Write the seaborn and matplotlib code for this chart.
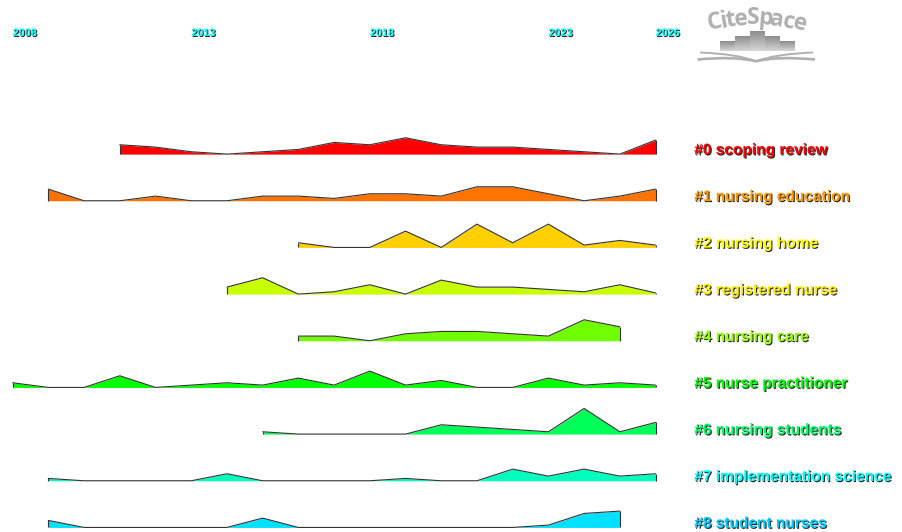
import numpy as np
import pandas as pd
import matplotlib.pyplot as plt
import matplotlib.patheffects as pe
from matplotlib.path import Path
from matplotlib.patches import PathPatch
import seaborn as sns

# cluster labels, first year of each cluster and yearly counts
labels = ["#0 scoping review", "#1 nursing education", "#2 nursing home",
          "#3 registered nurse", "#4 nursing care", "#5 nurse practitioner",
          "#6 nursing students", "#7 implementation science", "#8 student nurses"]
start_years = [2011, 2009, 2016, 2014, 2016, 2008, 2015, 2009, 2009]

c0 = [4, 3, 1, 0, 1, 2, 5, 4, 7, 4, 3, 3, 2, 1, 0, 6]
c1 = [5, 0, 0, 2, 0, 0, 2, 2, 1, 3, 3, 2, 6, 6, 3, 0, 2, 5]
c2 = [2, 0, 0, 7, 0, 10, 2, 10, 1, 3, 1]
c3 = [3, 7, 0, 1, 4, 0, 6, 3, 3, 2, 1, 4, 0.5]
c4 = [2, 2, 0, 3, 4, 4, 3, 2, 9, 6]
c5 = [2, 0, 0, 5, 0, 1, 2, 1, 4, 1, 7, 1, 3, 0, 0, 4, 1, 2, 1]
c6 = [1, 0, 0, 0, 0, 4, 3, 2, 1, 11, 1, 5]
c7 = [1, 0, 0, 0, 0, 3, 0, 0, 0, 0, 1, 0, 0, 5, 2, 5, 2, 3]
c8 = [3, 0, 0, 0, 0, 0, 4, 0, 0, 0, 0, 0, 0, 0, 1, 6, 7]
counts = [c0, c1, c2, c3, c4, c5, c6, c7, c8]

fill_colors = ["#FF0000", "#FF7300", "#FFD000", "#C8FF00", "#6FFF00",
               "#00FF00", "#00FF59", "#00FFBF", "#00E1FF"]
text_colors = ["#FF0000", "#FF9900", "#FFFF00", "#FFEE00", "#99FF00",
               "#00FF00", "#00FF66", "#00FFFF", "#00CCFF"]
year_ticks = [2008, 2013, 2018, 2023, 2026]

sns.set_theme(style="white")
plt.rcParams["font.family"] = ["Liberation Sans", "DejaVu Sans"]

W, H = 902, 532
px_year = 35.72
px_count = 7 / 3
row_step = 20

fig = plt.figure(figsize=(W / 100, H / 100), dpi=100)
ax = fig.add_axes([0, 0, 1, 1])
x0 = 2008 - 12.6 / px_year
y_top = 154.1 / px_count
ax.set_xlim(x0, x0 + W / px_year)
ax.set_ylim(y_top - H / px_count, y_top)
ax.axis("off")

shadow = [pe.withSimplePatchShadow(offset=(0.8, -0.8), shadow_rgbFace="#2a2a2a", alpha=1)]

for i, vals in enumerate(counts):
    base = -row_step * i
    df = pd.DataFrame({"year": start_years[i] + np.arange(len(vals)), "count": vals})
    df["y"] = df["count"] + base
    ax.fill_between(df["year"], base, df["y"], color=fill_colors[i], lw=0, zorder=2)
    sns.lineplot(data=df, x="year", y="y", color="#333333", lw=0.8, ax=ax, zorder=3)
    ax.vlines([df["year"].iloc[0], df["year"].iloc[-1]], base, [df["y"].iloc[0], df["y"].iloc[-1]],
              color="#333333", lw=0.8, zorder=3)
    ax.text(2027.08, base - 0.1, labels[i], color=text_colors[i], fontsize=11.15, fontweight="bold",
            va="baseline", ha="left", path_effects=shadow, clip_on=False)

year_y = (154.1 - 35.9) / px_count
for yr in year_ticks:
    ax.text(yr, year_y, str(yr), color="#00FFFF", fontsize=7.8, fontweight="bold",
            va="baseline", ha="left", path_effects=shadow)
ax.set_xlabel("")
ax.set_ylabel("")

# CiteSpace logo, in pixel coordinates
logo = fig.add_axes([0, 0, 1, 1], facecolor="none")

letters = ["C", "i", "t", "e", "S", "p", "a", "c", "e"]
letter_x = [715, 724, 731, 741, 753, 765, 777, 789, 800]
letter_y = [22.5, 21, 20, 19, 18, 19, 20, 22, 23.5]
letter_rot = [12, 10, 8, 5, 0, -5, -8, -11, -14]
for ch, lx, ly, rot in zip(letters, letter_x, letter_y, letter_rot):
    logo.text(lx, ly, ch, color="#b0b0b0", fontsize=16.5, fontweight="bold", family="Open Sans",
              ha="center", va="center", rotation=rot)

grad = np.linspace(0.55, 0.84, 64).reshape(-1, 1)
bar_x = [720, 735, 750, 765, 780]
bar_top = [41, 36, 31, 36, 41]
for bx, bt in zip(bar_x, bar_top):
    logo.imshow(grad, cmap="gray", vmin=0, vmax=1, extent=(bx, bx + 14.3, 51, bt), aspect="auto", zorder=2)

for start, ctrl, lw in [((700, 52.5), (738, 54), 1.4), ((697.5, 59.5), (735, 56), 1.9),
                        ((813, 52.5), (775, 54), 1.4), ((815, 59.5), (777, 56), 1.9)]:
    p = Path([start, ctrl, (756, 61.3)], [Path.MOVETO, Path.CURVE3, Path.CURVE3])
    logo.add_patch(PathPatch(p, fc="none", ec="#b0b0b0", lw=lw))

logo.set_xlim(0, W)
logo.set_ylim(H, 0)
logo.axis("off")

fig.savefig("out.png", dpi=100)
